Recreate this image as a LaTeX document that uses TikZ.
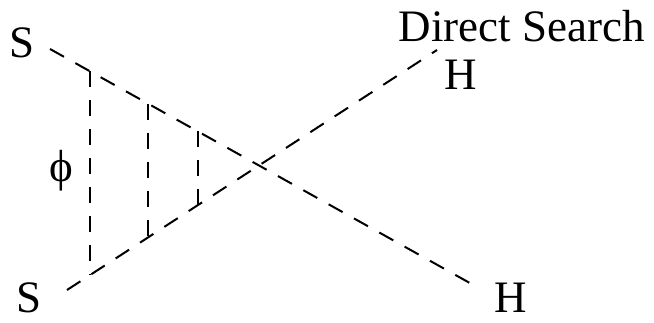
\documentclass[tikz,border=0pt]{standalone}
\usepackage{fontspec}
\setmainfont{Liberation Serif}
\begin{document}
\begin{tikzpicture}[x=1pt,y=-1pt,
  prop/.style={line width=2pt,dash pattern=on 16pt off 13pt},
  lbl/.style={inner sep=0pt,anchor=base,font=\fontsize{45}{54}\selectfont}]
\useasboundingbox (0,0) rectangle (654,323);
% coordinates
\coordinate (A) at (50,49);
\coordinate (B) at (477,287);
\coordinate (C) at (67,290);
\coordinate (D) at (437,50);
\coordinate (t1) at (90,71.3);
\coordinate (b1) at (90,275.1);
\coordinate (t2) at (148,103.6);
\coordinate (b2) at (148,237.7);
\coordinate (t3) at (198,131.4);
\coordinate (b3) at (198,205.4);
% labels
\node[lbl] (S1) at (22,58) {S};
\node[lbl] (S2) at (29,313) {S};
\node[lbl] (H1) at (461,90) {H};
\node[lbl] (H2) at (511,313) {H};
\node[lbl] (DS) at (522,42) {Direct Search};
\node[inner sep=0pt,font=\fontsize{45}{54}\selectfont] (phi) at (61,171) {ϕ};
% lines
\draw[prop] (A) -- (B);
\draw[prop] (C) -- (D);
\draw[prop] (t1) -- (b1);
\draw[prop] (t2) -- (b2);
\draw[prop] (t3) -- (b3);
\end{tikzpicture}
\end{document}
